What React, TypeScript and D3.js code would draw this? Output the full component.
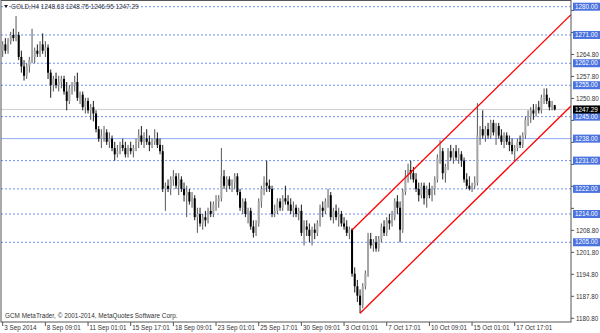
import React from "react";
import * as d3 from "d3";

// [open, high, low, close] per H4 bar
const candles: [number, number, number, number][] = [
  [1266,1269,1264,1268],[1268,1270,1265,1266],[1266,1270,1265,1269],[1269,1272,1268,1271],
  [1271,1273,1269,1270],[1270,1277,1269,1271],[1271,1272,1263,1264],[1264,1266,1259,1261],
  [1261,1263,1256.5,1258],[1258,1262,1257,1261],[1261,1264,1259,1263],[1263,1273,1262,1264],
  [1264,1267,1262,1266],[1266,1268,1264,1265],[1265,1269,1264,1268],[1268,1271.5,1265,1266],
  [1266,1269,1264,1267],[1267,1268,1257,1259],[1259,1260,1251,1255],[1255,1258,1253,1257],
  [1257,1259,1254,1255],[1255,1258,1253,1256],[1256,1258,1254,1257],[1257,1258,1252,1253],
  [1253,1256,1247,1250],[1250,1255,1249,1254],[1254,1256,1252,1255],[1255,1258,1253,1256],
  [1256,1259,1250,1251],[1251,1253,1249,1252],[1252,1253,1247,1248],[1248,1251,1246,1250],
  [1250,1251,1246,1247],[1247,1249,1244,1248],[1248,1250,1243.5,1246],[1246,1247,1240,1241],
  [1241,1242,1237,1238],[1238,1241,1235,1239],[1239,1242,1237,1240],[1240,1241,1236,1237],
  [1237,1240,1235,1238],[1238,1239,1234,1235],[1235,1237,1231,1233],[1233,1236,1232,1234],
  [1234,1237,1233,1236],[1236,1238,1234,1235],[1235,1237,1232,1233],[1233,1236,1232,1235],
  [1235,1237,1233,1234],[1234,1236,1232,1235],[1235,1238,1234,1237],[1237,1241,1235,1239],
  [1239,1242,1236,1237],[1237,1240,1235,1238],[1238,1241,1236,1237],[1237,1239,1234,1236],
  [1236,1238,1235,1237],[1237,1241,1236,1238],[1238,1240,1235,1236],[1236,1238,1233,1234],
  [1234,1236,1221,1222],[1222,1224,1215,1223],[1223,1225,1221,1222],[1222,1226,1220,1225],
  [1225,1228,1223,1226],[1226,1227,1222,1223],[1223,1227,1220,1225],[1225,1226,1221,1222],
  [1222,1224,1218,1220],[1220,1223,1213,1221],[1221,1222,1217,1218],[1218,1221,1216,1219],
  [1219,1220,1212,1213],[1213,1216,1208,1214],[1214,1216,1210,1211],[1211,1214,1209,1213],
  [1213,1215,1210,1212],[1212,1216,1211,1215],[1215,1218,1213,1214],[1214,1218,1213,1217],
  [1217,1220,1215,1218],[1218,1220,1216,1219],[1219,1235,1218,1226],[1226,1228,1222,1223],
  [1223,1226,1221,1225],[1225,1226,1222,1223],[1223,1225,1221,1224],[1224,1227,1222,1226],
  [1226,1227,1220,1221],[1221,1222,1215,1216],[1216,1219,1214,1218],[1218,1219,1213,1214],
  [1214,1216,1211,1215],[1215,1216,1209,1210],[1210,1212,1206.5,1208],[1208,1212,1207,1211],
  [1211,1219,1210,1218],[1218,1223,1216,1222],[1222,1226,1220,1224],[1224,1231,1221,1223],
  [1223,1225,1221,1222],[1222,1223,1213,1214],[1214,1217,1213,1215],[1215,1219,1214,1218],
  [1218,1219,1215,1216],[1216,1220,1215,1219],[1219,1223,1217,1218],[1218,1220,1215,1217],
  [1217,1219,1214,1215],[1215,1218,1213,1216],[1216,1217,1213,1214],[1214,1216,1212,1215],
  [1215,1217,1207,1208],[1208,1212,1204,1210],[1210,1212,1207,1209],[1209,1211,1205,1207],
  [1207,1210,1204,1209],[1209,1211,1206,1208],[1208,1212,1207,1211],[1211,1217,1210,1216],
  [1216,1218,1213,1215],[1215,1219,1214,1218],[1218,1222,1216,1220],[1220,1221,1212,1213],
  [1213,1216,1211,1215],[1215,1217,1212,1213],[1213,1216,1210,1214],[1214,1215,1210,1211],
  [1211,1213,1209,1210],[1210,1212,1207,1208],[1208,1210,1206,1209],[1209,1209.5,1194,1195],
  [1195,1197,1189,1191],[1191,1193,1186,1188],[1188,1190,1182.4,1185],[1185,1192,1184,1191],
  [1191,1196,1190,1195],[1195,1208,1194,1206],[1206,1208,1203,1204],[1204,1206,1202,1205],
  [1205,1207,1202,1203],[1203,1207,1202,1206],[1206,1211,1205,1210],[1210,1212,1207,1208],
  [1208,1213,1207,1212],[1212,1214,1209,1211],[1211,1215,1210,1214],[1213,1219,1212,1218],
  [1218,1220,1214,1216],[1216,1218,1205,1209],[1209,1222,1208,1221],[1221,1228,1220,1226],
  [1226,1230,1224,1228],[1228,1231,1225,1227],[1227,1229,1224,1225],[1225,1227,1221,1222],
  [1222,1224,1218,1220],[1220,1224,1219,1223],[1223,1224,1217,1219],[1219,1223,1216,1222],
  [1222,1224,1219,1220],[1220,1223,1218,1222],[1222,1226,1220,1225],[1225,1233,1224,1232],
  [1232,1237.5,1230,1234],[1234,1235,1225,1227],[1227,1230,1224,1229],[1229,1235,1228,1234],
  [1234,1236,1231,1232],[1232,1235,1230,1234],[1234,1236,1231,1232],[1232,1235,1230,1233],
  [1233,1234,1229,1231],[1231,1232,1224,1225],[1225,1227,1222,1223],[1223,1226,1221.5,1222],
  [1222,1224,1221,1223],[1223,1226,1222,1224],[1224,1249.3,1223,1239],[1239,1242,1236,1241],
  [1241,1247,1238,1239],[1239,1242,1237,1241],[1241,1243,1238,1239],[1239,1244,1238,1243],
  [1243,1244,1239,1240],[1240,1243,1236,1242],[1242,1243,1238,1239],[1239,1241,1236,1237],
  [1237,1240,1235,1239],[1239,1240,1236,1237],[1237,1239,1234,1236],[1236,1238,1233,1234],
  [1234,1236,1231,1235],[1235,1238,1234,1237],[1237,1239,1235,1236],[1236,1240,1235,1239],
  [1239,1245,1238,1244],[1244,1247,1242,1245],[1245,1248,1243,1247],[1247,1249,1244,1246],
  [1246,1249,1245,1248],[1248,1250,1246,1247],[1247,1252,1246,1251],[1251,1254,1249,1252],
  [1252,1254,1249,1250],[1250,1251,1247,1248],[1248,1250,1247,1248.63],[1248.63,1248.75,1246.95,1247.29],
];

const xLabels = [
  "3 Sep 2014","8 Sep 09:01","11 Sep 01:01","15 Sep 17:01","18 Sep 09:01","23 Sep 01:01",
  "25 Sep 17:01","30 Sep 09:01","3 Oct 01:01","7 Oct 17:01","10 Oct 09:01","15 Oct 01:01","17 Oct 17:01",
];
const xLabelStep = 16;

const yTicks = [1180.8,1187.8,1194.8,1201.8,1208.8,1215.8,1222.8,1229.8,1236.8,1243.8,1250.8,1257.8,1264.8,1271.8,1278.8];
const dottedLevels = [1280,1271,1262,1255,1245,1231,1222,1214,1205];
const solidLevel = 1238;
const currentPrice = 1247.29;

const channelUpper: [number, number][] = [[131,1208.9],[179,1249.0]];
const channelLower: [number, number][] = [[134,1182.4],[201.5,1238.7]];

const title = "GOLD,H4  1248.63 1248.75 1246.95 1247.29";
const copyright = "GCM MetaTrader, © 2001-2014, MetaQuotes Software Corp.";

const W = 600, H = 333;
const L = 1, R = 571, T = 0.5, B = 322;
const FONT = "'Liberation Sans', Arial, sans-serif";

export default function App() {
  const x = d3.scaleLinear().domain([0, 213.1]).range([2.7, 571]);
  const y = d3.scaleLinear().domain([1180.8, 1280]).range([318.3, 6.7]);
  const xEnd = 213.1;

  const ray = (pts: [number, number][]) => {
    const [[i1, p1], [i2, p2]] = pts;
    const s = (p2 - p1) / (i2 - i1);
    const line = d3.line<[number, number]>().x(d => x(d[0])).y(d => y(d[1]));
    return line([[i1, p1], [xEnd, p1 + s * (xEnd - i1)]]) || "";
  };

  const fmt = (v: number) => v.toFixed(2);
  const boxLevels = dottedLevels.concat([solidLevel, currentPrice]);
  const covered = (v: number) => boxLevels.some(b => Math.abs(y(b) - y(v)) < 8);

  return (
    <svg width={W} height={H} style={{ position: "absolute", left: 0, top: 0, background: "#fff" }}
      fontFamily={FONT}>
      <defs>
        <clipPath id="plot"><rect x={L} y={T} width={R - L} height={B - T} /></clipPath>
      </defs>
      <rect x={0} y={0} width={W} height={H} fill="#fff" />
      <g clipPath="url(#plot)">
        {dottedLevels.map(v => (
          <line key={v} x1={L} x2={R} y1={y(v)} y2={y(v)} stroke="#6f8fef" strokeWidth={1} strokeDasharray="2,2" />
        ))}
        <line x1={L} x2={R} y1={y(solidLevel)} y2={y(solidLevel)} stroke="#8ea9f4" strokeWidth={1} />
        <line x1={L} x2={R} y1={y(currentPrice)} y2={y(currentPrice)} stroke="#cfcfcf" strokeWidth={1} />
        {candles.map((c, i) => {
          const [o, h, l, cl] = c;
          const cx = x(i);
          const up = cl >= o;
          const top = y(Math.max(o, cl));
          const bot = y(Math.min(o, cl));
          return (
            <g key={i}>
              <line x1={cx} x2={cx} y1={y(h)} y2={y(l)} stroke={up ? "#444" : "#000"} strokeWidth={0.9} />
              <rect x={cx - 1} y={top} width={2} height={Math.max(0.8, bot - top)} fill={up ? "#a6a6a6" : "#000"} />
            </g>
          );
        })}
        <path d={ray(channelUpper)} stroke="#ff0000" strokeWidth={1.3} fill="none" />
        <path d={ray(channelLower)} stroke="#ff0000" strokeWidth={1.3} fill="none" />
      </g>
      {/* frame */}
      <rect x={L} y={T} width={R - L} height={B - T} fill="none" stroke="#555" strokeWidth={1} />

      {/* title */}
      <path d="M4,5 L8,5 L6,8 Z" fill="#222" />
      <text x={11} y={9} fontSize={6.4} fill="#333">{title}</text>
      <text x={5} y={318} fontSize={6.4} fill="#333">{copyright}</text>

      {/* y axis */}
      {yTicks.map(v => (
        <g key={v}>
          <line x1={R} x2={R + 3} y1={y(v)} y2={y(v)} stroke="#555" />
          {!covered(v) && <text x={576} y={y(v) + 2.2} fontSize={6.3} fill="#333">{fmt(v)}</text>}
        </g>
      ))}
      {dottedLevels.concat([solidLevel]).map(v => (
        <g key={"b" + v}>
          <rect x={573} y={y(v) - 4} width={27} height={8} fill="#4a73e0" />
          <text x={575} y={y(v) + 2.2} fontSize={6.3} fill="#fff">{fmt(v)}</text>
        </g>
      ))}
      <rect x={573} y={y(currentPrice) - 4} width={27} height={8} fill="#000" />
      <text x={575} y={y(currentPrice) + 2.2} fontSize={6.3} fill="#fff">{fmt(currentPrice)}</text>

      {/* x axis */}
      {xLabels.map((lab, k) => {
        const xi = x(k * xLabelStep);
        return (
          <g key={lab}>
            <line x1={xi} x2={xi} y1={B} y2={B + 4} stroke="#555" />
            <text x={xi + 1.5} y={330} fontSize={6.3} fill="#333">{lab}</text>
          </g>
        );
      })}
    </svg>
  );
}
